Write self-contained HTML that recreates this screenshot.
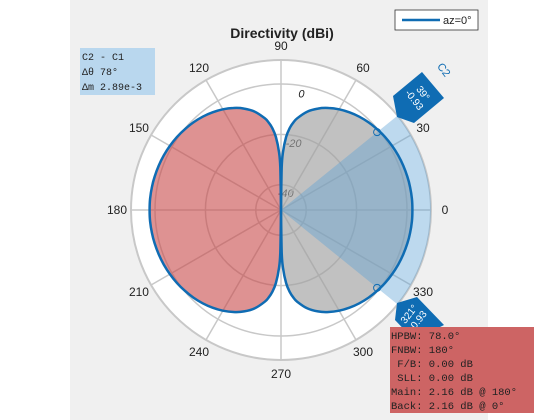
<!DOCTYPE html>
<html><head><meta charset="utf-8"><style>
html,body{margin:0;padding:0;background:#fff;}
svg{display:block;font-family:"Liberation Sans",sans-serif;}
.mono{font-family:"Liberation Mono",monospace;white-space:pre;}
</style></head><body>
<svg id="chart" width="560" height="420" viewBox="0 0 560 420" xmlns="http://www.w3.org/2000/svg">
<rect x="70" y="0" width="418" height="420" fill="#f0f0f0"/>
<g id="grid"></g>
<g id="fills"></g>
<g id="lines"></g>
<text x="282" y="38" text-anchor="middle" font-size="14" font-weight="bold" fill="#222">Directivity (dBi)</text>
<g>
<rect x="395" y="10" width="83" height="20" fill="#fff" stroke="#333" stroke-width="0.8"/>
<line x1="402" y1="20" x2="440" y2="20" stroke="#0f6cb3" stroke-width="2.5"/>
<text x="443" y="24" font-size="11" fill="#222">az=0°</text>
</g>
<g>
<rect x="80" y="48" width="75" height="47" fill="#b9d7ee"/>
<text class="mono" x="82" y="60" font-size="10" fill="#222">C2 - C1</text>
<text class="mono" x="82" y="75" font-size="10" fill="#222">Δθ 78°</text>
<text class="mono" x="82" y="90" font-size="10" fill="#222">Δm 2.89e-3</text>
</g>
<g>
<polygon points="397,117 393,96 422,72 444,98 414,123" fill="#0f6cb3"/>
<text transform="translate(418,97) rotate(52)" text-anchor="middle" font-size="10" fill="#fff"><tspan x="0" dy="-3">39°</tspan><tspan x="0" dy="11">-0.93</tspan></text>
<text transform="translate(441,72) rotate(52)" text-anchor="middle" font-size="11" fill="#0f6cb3">C2</text>
</g>
<g>
<polygon points="397,303 417,297 444,325 414,340 395,320" fill="#0f6cb3"/>
<text transform="translate(414,318) rotate(-52)" text-anchor="middle" font-size="10" fill="#fff"><tspan x="0" dy="-3">321°</tspan><tspan x="0" dy="11">-0.93</tspan></text>
</g>
<g>
<rect x="390" y="327" width="144" height="86" fill="#cd6464"/>
<text class="mono" font-size="10.5" fill="#222">
<tspan x="391" y="339">HPBW: 78.0°</tspan>
<tspan x="391" y="353">FNBW: 180°</tspan>
<tspan x="391" y="367"> F/B: 0.00 dB</tspan>
<tspan x="391" y="381"> SLL: 0.00 dB</tspan>
<tspan x="391" y="395">Main: 2.16 dB @ 180°</tspan>
<tspan x="391" y="409">Back: 2.16 dB @ 0°</tspan>
</text>
</g>
</svg>
<script>
const angleTicks=[0,30,60,90,120,150,180,210,240,270,300,330];
const ringValues=[-40,-20,0];
const ringLabels=["-40","-20","0"];
const thetaDeg=[0,5,10,15,20,25,30,35,40,45,50,55,60,65,70,75,80,82,84,86,88,89,90,91,92,94,96,98,100,105,110,115,120,125,130,135,140,145,150,155,160,165,170,175,180,185,190,195,200,205,210,215,220,225,230,235,240,245,250,255,260,262,264,266,268,269,270,271,272,274,276,278,280,285,290,295,300,305,310,315,320,325,330,335,340,345,350,355,360];
const dirDb=[2.16,2.13,2.03,1.86,1.62,1.30,0.91,0.43,-0.16,-0.85,-1.68,-2.67,-3.86,-5.32,-7.16,-9.58,-13.05,-14.97,-17.4,-20.96,-27.0,-33.0,-50,-33.0,-27.0,-20.96,-17.4,-14.97,-13.05,-9.58,-7.16,-5.32,-3.86,-2.67,-1.68,-0.85,-0.16,0.43,0.91,1.30,1.62,1.86,2.03,2.13,2.16,2.13,2.03,1.86,1.62,1.30,0.91,0.43,-0.16,-0.85,-1.68,-2.67,-3.86,-5.32,-7.16,-9.58,-13.05,-14.97,-17.4,-20.96,-27.0,-33.0,-50,-33.0,-27.0,-20.96,-17.4,-14.97,-13.05,-9.58,-7.16,-5.32,-3.86,-2.67,-1.68,-0.85,-0.16,0.43,0.91,1.30,1.62,1.86,2.03,2.13,2.16];
const cursorAngles=[39,321];
const cursorDb=[-0.93,-0.93];
const beamLimits=[-39,39];

const CX=281,CY=210,R=150,MIN=-50,PX=2.52;
const NS="http://www.w3.org/2000/svg";
function rScale(db){return Math.max(0,Math.min(R,(db-MIN)*PX));}
function pt(deg,r){const a=deg*Math.PI/180;return [CX+r*Math.cos(a),CY-r*Math.sin(a)];}
function mk(tag,attrs,parent){const e=document.createElementNS(NS,tag);for(const k in attrs)e.setAttribute(k,attrs[k]);parent.appendChild(e);return e;}
const grid=document.getElementById('grid'),fills=document.getElementById('fills'),lines=document.getElementById('lines');

const bg=mk('circle',{cx:CX,cy:CY,r:R,fill:'#fff',stroke:'#c8c8c8','stroke-width':2},grid);


ringValues.forEach((v,i)=>{
  const c=mk('circle',{cx:CX,cy:CY,r:rScale(v),fill:'none',stroke:'#c8c8c8','stroke-width':1.5},grid);
  
  
  const p=pt(81,rScale(v)-8);
  const t=mk('text',{x:p[0]+2,y:p[1]+4,'font-size':11,'font-style':'italic',fill:'#222','text-anchor':'middle'},grid);
  t.textContent=ringLabels[i];
  
  
});
angleTicks.forEach(a=>{
  const e=pt(a,R);
  const l=mk('line',{x1:CX,y1:CY,x2:e[0],y2:e[1],stroke:'#c8c8c8','stroke-width':1.5},grid);
  
  
  const p=pt(a,R+14);
  const t=mk('text',{x:p[0],y:p[1]+4,'font-size':12,fill:'#222','text-anchor':'middle'},grid);
  t.textContent=a;
  
  
});

function smooth(idx){
  const P=idx.map(i=>pt(thetaDeg[i],rScale(dirDb[i])));
  let d='M'+P[0][0].toFixed(1)+','+P[0][1].toFixed(1);
  for(let i=0;i<P.length-1;i++){
    const p0=P[Math.max(0,i-1)],p1=P[i],p2=P[i+1],p3=P[Math.min(P.length-1,i+2)];
    const c1=[p1[0]+(p2[0]-p0[0])/6,p1[1]+(p2[1]-p0[1])/6],c2=[p2[0]-(p3[0]-p1[0])/6,p2[1]-(p3[1]-p1[1])/6];
    d+='C'+c1.map(v=>v.toFixed(1))+' '+c2.map(v=>v.toFixed(1))+' '+p2.map(v=>v.toFixed(1));
  }
  return d;
}
const iOf=a=>thetaDeg.indexOf(a);
const back=[];for(let i=iOf(90);i<=iOf(270);i++)back.push(i);
const front=[];for(let i=iOf(270);i<thetaDeg.length;i++)front.push(i);for(let i=1;i<=iOf(90);i++)front.push(i);
const fb=mk('path',{d:smooth(back)+'Z',fill:'#c84a4a','fill-opacity':0.6},fills);


const ff=mk('path',{d:smooth(front)+'Z',fill:'#a0a0a0','fill-opacity':0.65},fills);


const w1=pt(beamLimits[0],R),w2=pt(beamLimits[1],R);
const wedge=mk('path',{d:`M${CX},${CY}L${w1[0]},${w1[1]}A${R},${R} 0 0 0 ${w2[0]},${w2[1]}Z`,fill:'#5a9fd4','fill-opacity':0.4},fills);


const ln=mk('path',{d:smooth(back),fill:'none',stroke:'#0f6cb3','stroke-width':2.5},lines);


const ln2=mk('path',{d:smooth(front),fill:'none',stroke:'#0f6cb3','stroke-width':2.5},lines);


cursorAngles.forEach((a,i)=>{
  const p=pt(a,rScale(cursorDb[i]));
  const c=mk('circle',{cx:p[0],cy:p[1],r:3.5,fill:'none',stroke:'#0f6cb3','stroke-width':1},lines);
  
  
});
</script>
</body></html>
